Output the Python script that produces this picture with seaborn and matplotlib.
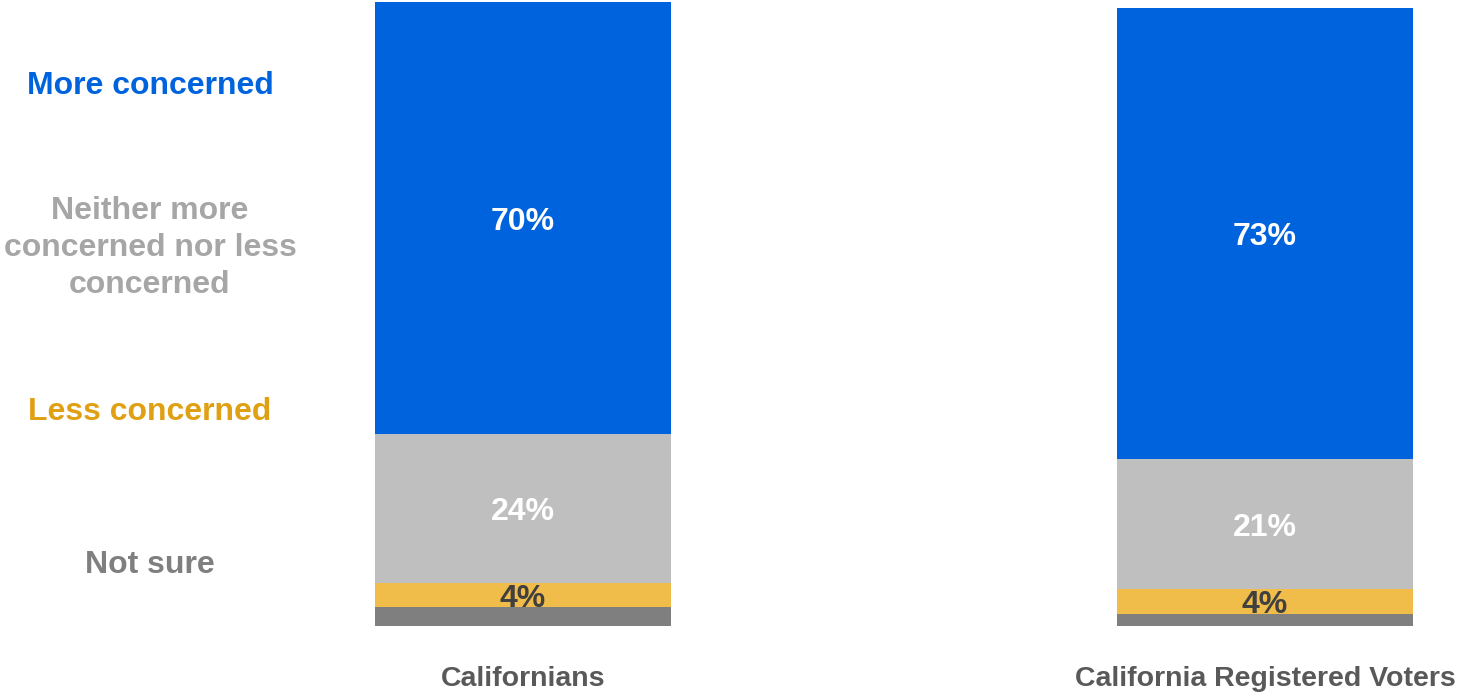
import matplotlib
matplotlib.use("Agg")
import matplotlib.pyplot as plt
import seaborn as sns
import pandas as pd
import numpy as np

# Survey responses (percent) per group
groups = ["Californians", "California Registered Voters"]
more_concerned = [70, 73]
neither = [24, 21]
less_concerned = [4, 4]
not_sure = [3, 2]

responses = ["Not sure", "Less concerned",
             "Neither more\nconcerned nor less\nconcerned", "More concerned"]
colors = {"Not sure": "#7F7F7F", "Less concerned": "#F1BD4A",
          "Neither": "#BFBFBF", "More concerned": "#0063DE"}
legend_colors = ["#7F7F7F", "#E0A013", "#A6A6A6", "#0063DE"]

sns.set_theme(style="white")
plt.rcParams["font.family"] = ["Liberation Sans", "DejaVu Sans"]
plt.rcParams["font.weight"] = "bold"

df = pd.DataFrame({
    "group": groups,
    "not_sure": not_sure,
    "less": less_concerned,
    "neither": neither,
    "more": more_concerned,
})
layers = ["not_sure", "less", "neither", "more"]
layer_colors = [colors["Not sure"], colors["Less concerned"],
                colors["Neither"], colors["More concerned"]]
cum = df[layers].cumsum(axis=1)

fig = plt.figure(figsize=(14.58, 6.92), dpi=100)
ax = fig.add_axes([337.5 / 1458, 66 / 692, 1113 / 1458, 624 / 692])

# Stacked bars: draw cumulative totals from the top layer down
for layer, col in zip(reversed(layers), reversed(layer_colors)):
    sns.barplot(x=df["group"], y=cum[layer], order=groups, color=col,
                width=0.399, saturation=1, ax=ax, linewidth=0)

# Value labels at the centre of each labelled segment
for i in range(len(groups)):
    bottoms = (cum[layers] - df[layers]).iloc[i]
    for layer, txtcol in [("more", "white"), ("neither", "white"), ("less", "#404040")]:
        val = df.loc[i, layer]
        yc = bottoms[layer] + val / 2
        ax.text(i, yc, f"{val}%", ha="center", va="center_baseline", color=txtcol,
                fontsize=23, fontweight="bold")

ax.set_xlim(-0.25, 1.25)
ax.set_ylim(0, 101)
ax.set_xlabel("")
ax.set_ylabel("")
ax.set_yticks([])
ax.tick_params(axis="x", length=0, pad=29)
for lab in ax.get_xticklabels():
    lab.set_fontsize(20.5)
    lab.set_fontweight("bold")
    lab.set_color("#595959")
sns.despine(ax=ax, left=True, bottom=True)

# Response legend on the left
legend_y = [565, 412, 248, 86]
for txt, col, yp in zip(responses, legend_colors, legend_y):
    fig.text(150 / 1458, 1 - yp / 692, txt, ha="center", va="center",
             color=col, fontsize=23, fontweight="bold", linespacing=1.32)

fig.savefig("out.png", dpi=100)
